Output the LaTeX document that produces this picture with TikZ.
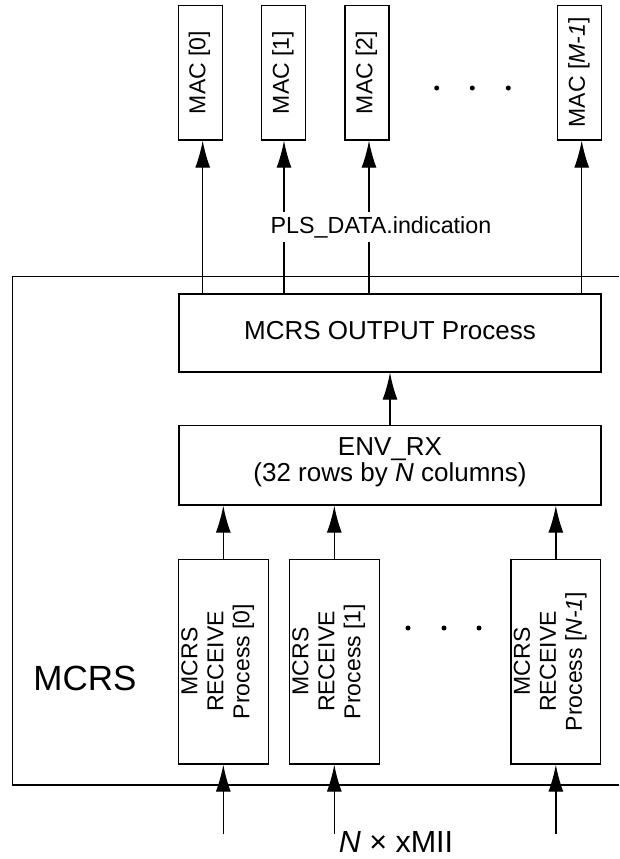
\documentclass[tikz,border=0pt]{standalone}
\usepackage{fontspec}
\setmainfont{Liberation Sans}
\usetikzlibrary{arrows.meta}
\newcommand{\fsz}[2]{\fontsize{#1}{#2}\selectfont}
\begin{document}
\begin{tikzpicture}[x=1pt,y=-1pt,
  every node/.style={inner sep=0pt},
  blk/.style={draw, line width=1.3pt, inner sep=0pt},
  wire/.style={line width=1.3pt},
  arr/.style={line width=1.3pt, -{Latex[length=27pt,width=15pt]}},
  boxtxt/.style={font=\fsz{23}{26}, align=center},
  vtxt/.style={font=\fsz{23}{26}, align=center, rotate=90},
  dot/.style={fill=black, circle, minimum size=5pt}]
\useasboundingbox (0,0) rectangle (619,859);

% MAC service users
\node[blk, minimum width=43.8pt, minimum height=134.3pt] (mac0) at (200.4,72.85) {};
\node[blk, minimum width=44pt,   minimum height=134.3pt] (mac1) at (283.7,72.85) {};
\node[blk, minimum width=44pt,   minimum height=134.3pt] (mac2) at (367.0,72.85) {};
\node[blk, minimum width=44.4pt, minimum height=134.3pt] (macM) at (579.5,72.85) {};
\node[vtxt] (lmac0) at (199.5,72.5) {MAC [0]};
\node[vtxt] (lmac1) at (283.0,72.5) {MAC [1]};
\node[vtxt] (lmac2) at (366.3,72.5) {MAC [2]};
\node[vtxt] (lmacM) at (578.8,72.5) {MAC [\textit{M-1}]};
\node[dot] (td1) at (436.7,88) {};
\node[dot] (td2) at (472.3,88) {};
\node[dot] (td3) at (508.3,88) {};

% MCRS sublayer outline (open on the right)
\draw[wire] (619,276.5) -- (12.5,276.5) -- (12.5,785) -- (619,785);
\node[font=\fsz{35}{40}, anchor=base] (mcrs) at (85,690.7) {MCRS};

% Output process and receive buffer
\node[blk, minimum width=422pt, minimum height=78pt] (out) at (390,333) {};
\node[boxtxt, font=\fsz{26}{28}] (lout) at (390,330.5) {MCRS OUTPUT Process};
\node[blk, minimum width=422pt, minimum height=79.5pt] (env) at (390,465.25) {};
\node[boxtxt, font=\fsz{26}{26}] (lenv) at (390,462) {ENV\_RX\\(32 rows by \textit{N} columns)};

% Receive processes
\node[blk, minimum width=90pt,   minimum height=204.7pt] (rx0) at (223.3,661.65) {};
\node[blk, minimum width=90pt,   minimum height=204.7pt] (rx1) at (334.3,661.65) {};
\node[blk, minimum width=89.7pt, minimum height=204.7pt] (rxN) at (555.85,661.65) {};
\node[vtxt] (lrx0) at (217.8,661.5) {MCRS\\RECEIVE\\Process [0]};
\node[vtxt] (lrx1) at (328.8,661.5) {MCRS\\RECEIVE\\Process [1]};
\node[vtxt] (lrxN) at (550.3,661.5) {MCRS\\RECEIVE\\Process [\textit{N-1}]};
\node[dot] (bd1) at (408,628) {};
\node[dot] (bd2) at (444,628) {};
\node[dot] (bd3) at (479,628) {};

% Indications up to the MACs
\draw[arr] ([xshift=2.3pt]mac0.south |- out.north) -- ([xshift=2.3pt]mac0.south);
\draw[arr] ([xshift=0.3pt]mac1.south |- out.north) -- ([xshift=0.3pt]mac1.south);
\draw[arr] ([xshift=2pt]mac2.south |- out.north) -- ([xshift=2pt]mac2.south);
\draw[arr] ([xshift=2.2pt]macM.south |- out.north) -- ([xshift=2.2pt]macM.south);
\node[fill=white, inner sep=4pt, font=\fsz{23.3}{26}, anchor=base] (pls) at (381,233.3) {PLS\_DATA.indication};

% Internal data flow
\draw[arr] (env.north) -- (out.south);
\draw[arr] (rx0.north) -- (rx0.north |- env.south);
\draw[arr] (rx1.north) -- (rx1.north |- env.south);
\draw[arr] (rxN.north) -- (rxN.north |- env.south);

% xMII inputs
\coordinate (in0) at (223.3,834);
\coordinate (in1) at (334.3,834);
\coordinate (inN) at (555.85,834);
\draw[arr] (in0) -- (rx0.south);
\draw[arr] (in1) -- (rx1.south);
\draw[arr] (inN) -- (rxN.south);
\node[font=\fsz{30.5}{34}, anchor=base] (xmii) at (396,852) {\textit{N} × xMII};
\end{tikzpicture}
\end{document}
